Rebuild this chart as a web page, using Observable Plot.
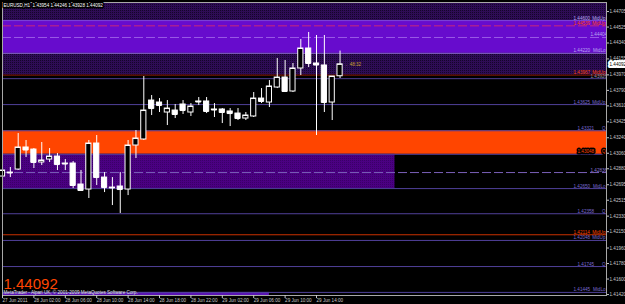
<!DOCTYPE html>
<html><head><meta charset="utf-8">
<script src="https://cdn.jsdelivr.net/npm/d3@7"></script>
<script src="https://cdn.jsdelivr.net/npm/@observablehq/plot@0.6"></script>
<style>html,body{margin:0;padding:0;background:#000;overflow:hidden}</style>
</head><body><div id="chart"></div>
<script>
// ---- data ----
const symbol = "EURUSD,H1";
const opens  = [1.42790,1.42836,1.42871,1.43127,1.43103,1.42953,1.42987,1.43022,1.42941,1.42941,1.42697,1.42639,1.43173,1.42778,1.42662,1.42674,1.42639,1.43150,1.43220,1.43672,1.43649,1.43533,1.43556,1.43626,1.43533,1.43661,1.43661,1.43568,1.43568,1.43545,1.43521,1.43463,1.43487,1.43695,1.43649,1.43823,1.43939,1.43777,1.44044,1.44276,1.44102,1.44079,1.43649,1.43954];
const highs  = [1.42883,1.42895,1.43289,1.43208,1.43115,1.43185,1.43115,1.43057,1.42987,1.42964,1.42860,1.43208,1.43266,1.42836,1.42778,1.42836,1.43208,1.43324,1.43951,1.43730,1.43695,1.43672,1.43626,1.43672,1.43637,1.43707,1.43707,1.43637,1.43579,1.43579,1.43579,1.43533,1.43765,1.43811,1.43904,1.44160,1.44137,1.44102,1.44380,1.44462,1.44427,1.44427,1.43951,1.44246];
const lows   = [1.42767,1.42778,1.42860,1.43011,1.42883,1.42918,1.42953,1.42860,1.42860,1.42651,1.42616,1.42535,1.42686,1.42604,1.42453,1.42361,1.42569,1.42999,1.43208,1.43498,1.43533,1.43382,1.43463,1.43510,1.43487,1.43614,1.43521,1.43475,1.43405,1.43370,1.43440,1.43440,1.43475,1.43637,1.43591,1.43811,1.43765,1.43765,1.43962,1.44055,1.43266,1.43533,1.43440,1.43928];
const closes = [1.42860,1.42831,1.43127,1.43098,1.42953,1.42976,1.43022,1.42929,1.42935,1.42686,1.42628,1.43173,1.42778,1.42662,1.42657,1.42639,1.43150,1.43231,1.43556,1.43579,1.43614,1.43579,1.43510,1.43556,1.43603,1.43655,1.43545,1.43562,1.43533,1.43521,1.43463,1.43498,1.43695,1.43661,1.43835,1.43939,1.43777,1.44044,1.44276,1.44102,1.44084,1.43649,1.43951,1.44092];

const xTickBars   = [0,4,8,12,16,20,24,28,32,36,40];
const xTickLabels = ["27 Jun 2011","28 Jun 02:00","28 Jun 06:00","28 Jun 10:00","28 Jun 14:00","28 Jun 18:00","28 Jun 22:00","29 Jun 02:00","29 Jun 06:00","29 Jun 10:00","29 Jun 14:00"];
const priceTicks  = [1.44705,1.44525,1.44340,1.44155,1.43970,1.43790,1.43610,1.43425,1.43240,1.43060,1.42880,1.42695,1.42515,1.42330,1.42150,1.41960,1.41780,1.41600,1.41420];

// zones: low, high, first bar, last bar
const zoneLow   = [1.43967,1.44220,1.43048,1.42650,1.41300];
const zoneHigh  = [1.44900,1.44600,1.43321,1.43048,1.41445];
const zoneStart = [0,0,0,0,0];
const zoneEnd   = [80,80,80,50,34];

// levels
const levelPrice = [1.44600,1.44539,1.44404,1.44220,1.43967,1.43926,1.43625,1.43321,1.43048,1.42836,1.42650,1.42358,1.42114,1.42048,1.41745,1.41445];
const levelTag   = ["MidUp","MidUp","","MidLo","MidUp","","MidUp","Q","Q","","MidLo","Q","MidUp","MidUp","Q","MidLo"];

const timerText = "\u219048:32";
const copyright = "MetaTrader - Alpari UK, \u00a9 2001-2009 MetaQuotes Software Corp.";

// ---- styles ----
const zoneFill = ["url(#dotsDark)","#670ccd","#ff4500","url(#dotsIndigo)","#5a14b4"];
const levelStroke = ["#7b45d8","#c8287a","#9a5ae6","#8a66cc","#8b1a00","#4e3e90","#50409a","#50409a","#50409a","#7a60b8","#50409a","#50409a","#c83000","#50409a","#50409a","#50409a"];
const levelDashed = [false,true,true,false,false,false,false,false,false,true,false,false,false,false,false,false];
const levelText = ["#b8a8f0","#ff4500","#b8a8f0","#b8a8f0","#ff4500","#9090a8","#7a6ad0","#7a6ad0","#ff4500","#8a7ad0","#7a6ad0","#7a6ad0","#ff4500","#7a6ad0","#7a6ad0","#7a6ad0"];
const levelHalo = [null,null,null,null,null,null,null,null,"#000",null,null,null,null,null,null,null];

const bars = opens.map((o, i) => ({i, o, h: highs[i], l: lows[i], c: closes[i]}));
const zones = zoneLow.map((lo, k) => ({k, lo, hi: zoneHigh[k], s: zoneStart[k], e: zoneEnd[k], fill: zoneFill[k]}));
const levels = levelPrice.map((p, k) => ({k, p, tag: levelTag[k], stroke: levelStroke[k], dashed: levelDashed[k], tc: levelText[k], halo: levelHalo[k]}));
const last = bars[bars.length - 1];

const FS = 4.6;
const labelMarks = [];
for (const lv of levels) {
  const dx = lv.tag === "" ? -16 : lv.tag === "Q" ? -29 : -33;
  const base = {y: "p", frameAnchor: "right", lineAnchor: "bottom", dy: -1, fontSize: FS, fill: lv.tc, clip: true};
  if (lv.halo) { base.stroke = lv.halo; base.strokeWidth = 3; }
  labelMarks.push(Plot.text([lv], {...base, text: d => d.p.toFixed(5), textAnchor: "start", dx}));
  if (lv.tag) labelMarks.push(Plot.text([lv], {...base, text: "tag", textAnchor: "end", dx: -1}));
}

const svg = Plot.plot({
  width: 625, height: 304,
  marginLeft: 2, marginRight: 19, marginTop: 2, marginBottom: 9,
  style: {background: "#000", color: "#c8c8c8", fontFamily: "'Liberation Sans', Arial, sans-serif", fontSize: FS + "px"},
  x: {domain: [0, 76.94]},
  y: {domain: [1.41409, 1.44810]},
  color: {type: "identity"},
  marks: [
    ...zones.map(z => Plot.rect([z], {x1: "s", x2: "e", y1: "lo", y2: "hi", fill: z.fill, clip: true})),
    Plot.ruleY(levels.filter(d => !d.dashed), {y: "p", stroke: "stroke", strokeWidth: 1, clip: true}),
    Plot.ruleY(levels.filter(d => d.dashed), {y: "p", stroke: "stroke", strokeWidth: 1, strokeDasharray: "9,3", clip: true}),
    ...labelMarks,
    Plot.ruleX(bars, {x: "i", y1: "l", y2: "h", stroke: "#fff", strokeWidth: 1}),
    Plot.rect(bars, {x1: d => d.i - 0.33, x2: d => d.i + 0.33, y1: "o", y2: "c", fill: d => d.c >= d.o ? "#000" : "#fff", stroke: "#fff", strokeWidth: 1}),
    Plot.ruleY(bars, {y: "c", x1: d => d.i - 0.33, x2: d => d.i + 0.33, stroke: "#fff", strokeWidth: 1}),
    Plot.frame({stroke: "#a8a8a8"}),
    Plot.axisY({anchor: "right", ticks: priceTicks, tickFormat: d => d.toFixed(5), tickSize: 2, tickPadding: 1, fontSize: FS}),
    Plot.axisX({anchor: "bottom", ticks: xTickBars, tickFormat: d => xTickLabels[xTickBars.indexOf(d)], textAnchor: "start", tickSize: 3, tickPadding: 0.5, fontSize: FS}),
    Plot.text([last], {y: "c", text: d => d.c.toFixed(5), frameAnchor: "right", dx: 3, textAnchor: "start", fill: "#000", stroke: "#fff", strokeWidth: 4, fontSize: FS}),
    Plot.text([last], {x: "i", y: "c", text: () => timerText, dx: 5, textAnchor: "start", fill: "#c8a030", fontSize: FS}),
    Plot.text([symbol + "  " + [last.o, last.h, last.l, last.c].map(v => v.toFixed(5)).join(" ")], {frameAnchor: "top-left", dx: 1, dy: 1.5, lineAnchor: "top", textAnchor: "start", fill: "#fff", stroke: "#000", strokeWidth: 3, fontSize: FS}),
    Plot.text([last], {text: d => d.c.toFixed(5), frameAnchor: "bottom-left", dx: 1, dy: -6.7, lineAnchor: "bottom", textAnchor: "start", fill: "#ff4500", fontSize: 15}),
    Plot.text([copyright], {frameAnchor: "bottom-left", dx: 1, dy: -1.2, lineAnchor: "bottom", textAnchor: "start", fill: "#e0e0e0", fontSize: FS})
  ]
});

const defs = d3.select(svg).insert("defs", ":first-child");
const p1 = defs.append("pattern").attr("id", "dotsDark").attr("width", 2).attr("height", 2).attr("patternUnits", "userSpaceOnUse");
p1.append("rect").attr("width", 2).attr("height", 2).attr("fill", "#2e0c55");
p1.append("rect").attr("width", 1).attr("height", 1).attr("fill", "#14052a");
const p2 = defs.append("pattern").attr("id", "dotsIndigo").attr("width", 2).attr("height", 2).attr("patternUnits", "userSpaceOnUse");
p2.append("rect").attr("width", 2).attr("height", 2).attr("fill", "#4b0082");
p2.append("rect").attr("width", 1).attr("height", 1).attr("fill", "#3a0068");

document.getElementById("chart").appendChild(svg);
</script>
</body></html>
